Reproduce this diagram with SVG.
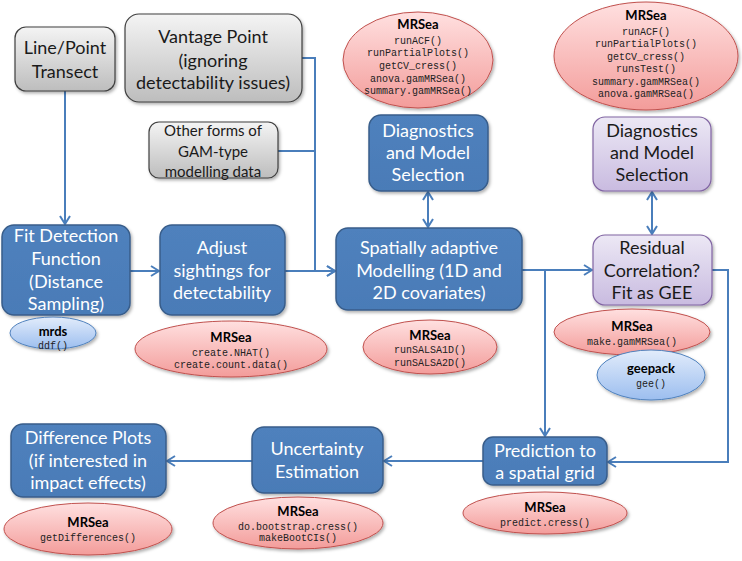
<svg xmlns="http://www.w3.org/2000/svg" width="742" height="561" viewBox="0 0 742 561">
<defs>
<linearGradient id="gGray" x1="0" y1="0" x2="0" y2="1"><stop offset="0" stop-color="#f4f4f4"/><stop offset="1" stop-color="#bdbdbd"/></linearGradient>
<linearGradient id="gBlue" x1="0" y1="0" x2="0" y2="1"><stop offset="0" stop-color="#4f81bd"/><stop offset="1" stop-color="#4a7bb7"/></linearGradient>
<linearGradient id="gPurple" x1="0" y1="0" x2="0" y2="1"><stop offset="0" stop-color="#ece8f5"/><stop offset="1" stop-color="#c9bbe0"/></linearGradient>
<linearGradient id="gPink" x1="0" y1="0" x2="0" y2="1"><stop offset="0" stop-color="#ffe0e0"/><stop offset="1" stop-color="#f39c9a"/></linearGradient>
<linearGradient id="gLBlue" x1="0" y1="0" x2="0" y2="1"><stop offset="0" stop-color="#e2ecfb"/><stop offset="1" stop-color="#9cbeef"/></linearGradient>
<filter id="sh" x="-10%" y="-10%" width="130%" height="130%"><feDropShadow dx="1.5" dy="2" stdDeviation="1.5" flood-color="#000" flood-opacity="0.3"/></filter>
<marker id="arr" markerUnits="userSpaceOnUse" viewBox="0 0 10 12" refX="9" refY="6" markerWidth="10" markerHeight="12" orient="auto-start-reverse">
<path d="M1,1 L9,6 L1,11" fill="none" stroke="#4a7ebb" stroke-width="2"/>
</marker>
<style>
.gray{fill:url(#gGray);stroke:#3f3f3f;stroke-width:1.2;filter:url(#sh)}
.blue{fill:url(#gBlue);stroke:#385d8a;stroke-width:1.5;filter:url(#sh)}
.purple{fill:url(#gPurple);stroke:#8064a2;stroke-width:1.2;filter:url(#sh)}
.pink{fill:url(#gPink);stroke:#c0504d;stroke-width:1;filter:url(#sh)}
.lblue{fill:url(#gLBlue);stroke:#4f81bd;stroke-width:1;filter:url(#sh)}
.t{font-family:Lato,"Noto Sans","Liberation Sans",sans-serif;font-size:18px;text-anchor:middle;fill:#1a1a1a}
.tw{font-family:Lato,"Noto Sans","Liberation Sans",sans-serif;font-size:18px;text-anchor:middle;fill:#ffffff}
.ts{font-family:Lato,"Noto Sans","Liberation Sans",sans-serif;font-size:15px;text-anchor:middle;fill:#1a1a1a}
.b{font-family:Lato,"Noto Sans","Liberation Sans",sans-serif;font-size:13px;font-weight:bold;text-anchor:middle;fill:#000}
.m{font-family:"Liberation Mono","DejaVu Sans Mono",monospace;font-size:10px;text-anchor:middle;fill:#222}
.c{fill:none;stroke:#4a7ebb;stroke-width:2}
</style>
</defs>
<rect width="742" height="561" fill="#fff"/>

<g id="connectors">
<path class="c" d="M65,91 V224" marker-end="url(#arr)"/>
<path class="c" d="M130,271 H159" marker-end="url(#arr)"/>
<path class="c" d="M302,58 H315 V271 H335" marker-end="url(#arr)"/>
<path class="c" d="M278,151 H315"/>
<path class="c" d="M285,271 H335" marker-end="url(#arr)"/>
<path class="c" d="M428,192 V227" marker-start="url(#arr)" marker-end="url(#arr)"/>
<path class="c" d="M522,270 H592" marker-end="url(#arr)"/>
<path class="c" d="M545,270 V436" marker-end="url(#arr)"/>
<path class="c" d="M652,192 V234" marker-start="url(#arr)" marker-end="url(#arr)"/>
<path class="c" d="M712,270 H728 V462 H608" marker-end="url(#arr)"/>
<path class="c" d="M483,461 H384" marker-end="url(#arr)"/>
<path class="c" d="M252,461 H167" marker-end="url(#arr)"/>
</g>

<g id="line-point">
<rect class="gray" x="15" y="27" width="100" height="64" rx="11"/>
<text class="t" x="65" y="54">Line/Point</text>
<text class="t" x="65" y="78">Transect</text>
</g>

<g id="vantage">
<rect class="gray" x="125" y="14" width="177" height="88" rx="14"/>
<text class="t" x="213" y="43">Vantage Point</text>
<text class="t" x="213" y="67">(ignoring</text>
<text class="t" x="213" y="89">detectability issues)</text>
</g>

<g id="other-forms">
<rect class="gray" x="149" y="122" width="129" height="56" rx="10"/>
<text class="ts" x="213" y="136">Other forms of</text>
<text class="ts" x="213" y="157">GAM-type</text>
<text class="ts" x="213" y="177">modelling data</text>
</g>

<g id="fit-detection">
<rect class="blue" x="2" y="225" width="128" height="90" rx="12"/>
<text class="tw" x="66" y="242">Fit Detection</text>
<text class="tw" x="66" y="265">Function</text>
<text class="tw" x="66" y="288">(Distance</text>
<text class="tw" x="66" y="310">Sampling)</text>
</g>

<g id="mrds">
<ellipse class="lblue" cx="53" cy="333" rx="43" ry="16"/>
<text class="b" x="53" y="336">mrds</text>
<text class="m" x="53" y="349">ddf()</text>
</g>

<g id="adjust">
<rect class="blue" x="160" y="225" width="125" height="90" rx="12"/>
<text class="tw" x="222" y="254">Adjust</text>
<text class="tw" x="222" y="277">sightings for</text>
<text class="tw" x="222" y="299">detectability</text>
</g>

<g id="mrsea-adjust">
<ellipse class="pink" cx="231" cy="349" rx="96" ry="28"/>
<text class="b" x="231" y="342">MRSea</text>
<text class="m" x="231" y="356">create.NHAT()</text>
<text class="m" x="231" y="368">create.count.data()</text>
</g>

<g id="spatial">
<rect class="blue" x="336" y="228" width="186" height="82" rx="12"/>
<text class="tw" x="429" y="254">Spatially adaptive</text>
<text class="tw" x="429" y="277">Modelling (1D and</text>
<text class="tw" x="429" y="299">2D covariates)</text>
</g>

<g id="mrsea-spatial">
<ellipse class="pink" cx="430" cy="347" rx="67" ry="27"/>
<text class="b" x="430" y="340">MRSea</text>
<text class="m" x="430" y="353">runSALSA1D()</text>
<text class="m" x="430" y="366">runSALSA2D()</text>
</g>

<g id="diag-blue">
<rect class="blue" x="369" y="115" width="119" height="76" rx="12"/>
<text class="tw" x="428" y="137">Diagnostics</text>
<text class="tw" x="428" y="159">and Model</text>
<text class="tw" x="428" y="181">Selection</text>
</g>

<g id="mrsea-diag1">
<ellipse class="pink" cx="418" cy="60" rx="75" ry="48"/>
<text class="b" x="418" y="29">MRSea</text>
<text class="m" x="418" y="43.5">runACF()</text>
<text class="m" x="418" y="56">runPartialPlots()</text>
<text class="m" x="418" y="68.5">getCV_cress()</text>
<text class="m" x="418" y="81.5">anova.gamMRSea()</text>
<text class="m" x="418" y="93.5">summary.gamMRSea()</text>
</g>

<g id="mrsea-diag2">
<ellipse class="pink" cx="646" cy="56" rx="92" ry="54"/>
<text class="b" x="646" y="20">MRSea</text>
<text class="m" x="646" y="34.5">runACF()</text>
<text class="m" x="646" y="46.5">runPartialPlots()</text>
<text class="m" x="646" y="59.5">getCV_cress()</text>
<text class="m" x="646" y="71.5">runsTest()</text>
<text class="m" x="646" y="84.5">summary.gamMRSea()</text>
<text class="m" x="646" y="96.5">anova.gamMRSea()</text>
</g>

<g id="diag-purple">
<rect class="purple" x="593" y="117" width="118" height="74" rx="12"/>
<text class="t" x="652" y="137">Diagnostics</text>
<text class="t" x="652" y="159">and Model</text>
<text class="t" x="652" y="181">Selection</text>
</g>

<g id="residual">
<rect class="purple" x="593" y="235" width="119" height="70" rx="12"/>
<text class="t" x="652" y="254">Residual</text>
<text class="t" x="652" y="277">Correlation?</text>
<text class="t" x="652" y="299">Fit as GEE</text>
</g>

<g id="mrsea-residual">
<ellipse class="pink" cx="632" cy="332" rx="78" ry="23"/>
<text class="b" x="632" y="331">MRSea</text>
<text class="m" x="632" y="345">make.gamMRSea()</text>
</g>

<g id="geepack">
<ellipse class="lblue" cx="651" cy="375" rx="54" ry="25"/>
<text class="b" x="651" y="373">geepack</text>
<text class="m" x="651" y="387">gee()</text>
</g>

<g id="prediction">
<rect class="blue" x="483" y="437" width="124" height="48" rx="10"/>
<text class="tw" x="545" y="457">Prediction to</text>
<text class="tw" x="545" y="479">a spatial grid</text>
</g>

<g id="mrsea-prediction">
<ellipse class="pink" cx="545" cy="513" rx="82" ry="21"/>
<text class="b" x="545" y="512">MRSea</text>
<text class="m" x="545" y="526">predict.cress()</text>
</g>

<g id="uncertainty">
<rect class="blue" x="252" y="427" width="131" height="66" rx="12"/>
<text class="tw" x="317" y="455">Uncertainty</text>
<text class="tw" x="317" y="478">Estimation</text>
</g>

<g id="mrsea-uncertainty">
<ellipse class="pink" cx="298" cy="523" rx="85" ry="26"/>
<text class="b" x="298" y="516">MRSea</text>
<text class="m" x="298" y="530">do.bootstrap.cress()</text>
<text class="m" x="298" y="541">makeBootCIs()</text>
</g>

<g id="difference">
<rect class="blue" x="11" y="424" width="155" height="73" rx="12"/>
<text class="tw" x="88" y="444">Difference Plots</text>
<text class="tw" x="88" y="467">(if interested in</text>
<text class="tw" x="88" y="489">impact effects)</text>
</g>

<g id="mrsea-difference">
<ellipse class="pink" cx="88" cy="529" rx="84" ry="26"/>
<text class="b" x="88" y="527">MRSea</text>
<text class="m" x="88" y="541">getDifferences()</text>
</g>
</svg>
